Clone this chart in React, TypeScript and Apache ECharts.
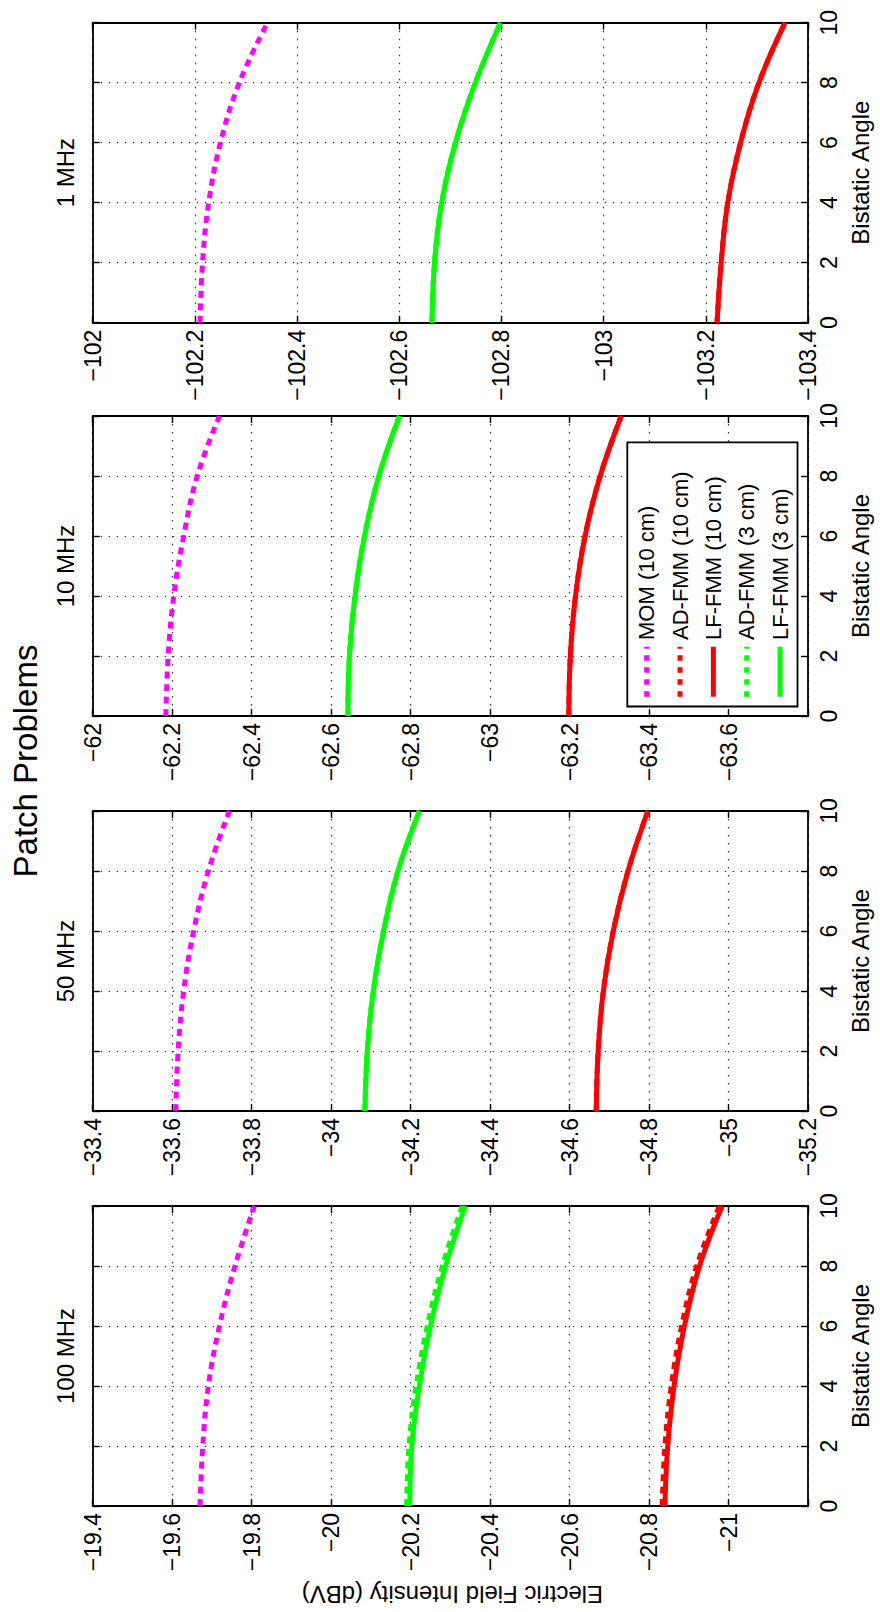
import React, { useEffect, useRef } from "react";
import * as echarts from "echarts";

// Bistatic angles at which the field was sampled
const angles = [0, 2, 4, 6, 8, 10];

// 1 MHz (dBV)
const mom1 = [-102.21, -102.215, -102.227, -102.25, -102.287, -102.342];
const adfmm10cm1 = [-103.222, -103.23, -103.243, -103.268, -103.304, -103.355];
const lffmm10cm1 = [-103.222, -103.23, -103.243, -103.268, -103.304, -103.355];
const adfmm3cm1 = [-102.664, -102.669, -102.683, -102.71, -102.749, -102.798];
const lffmm3cm1 = [-102.664, -102.669, -102.683, -102.71, -102.749, -102.798];

// 10 MHz (dBV)
const mom10 = [-62.184, -62.19, -62.204, -62.229, -62.263, -62.319];
const adfmm10cm10 = [-63.198, -63.202, -63.215, -63.239, -63.277, -63.33];
const lffmm10cm10 = [-63.198, -63.202, -63.215, -63.239, -63.277, -63.33];
const adfmm3cm10 = [-62.642, -62.646, -62.66, -62.684, -62.72, -62.772];
const lffmm3cm10 = [-62.642, -62.646, -62.66, -62.684, -62.72, -62.772];

// 50 MHz (dBV)
const mom50 = [-33.609, -33.615, -33.629, -33.654, -33.691, -33.744];
const adfmm10cm50 = [-34.667, -34.672, -34.685, -34.71, -34.747, -34.797];
const lffmm10cm50 = [-34.667, -34.672, -34.685, -34.71, -34.747, -34.797];
const adfmm3cm50 = [-34.085, -34.091, -34.106, -34.132, -34.168, -34.222];
const lffmm3cm50 = [-34.085, -34.091, -34.106, -34.132, -34.168, -34.222];

// 100 MHz (dBV)
const mom100 = [-19.67, -19.677, -19.691, -19.719, -19.758, -19.807];
const adfmm10cm100 = [-20.833, -20.84, -20.856, -20.882, -20.92, -20.977];
const lffmm10cm100 = [-20.84, -20.847, -20.863, -20.889, -20.927, -20.984];
const adfmm3cm100 = [-20.19, -20.196, -20.214, -20.242, -20.28, -20.33];
const lffmm3cm100 = [-20.198, -20.203, -20.222, -20.25, -20.288, -20.338];

// Axis ranges (dBV) per panel, top to bottom
const panelTitles = ["1 MHz", "10 MHz", "50 MHz", "100 MHz"];
const axisMax = [-102, -62, -33.4, -19.4];
const axisMin = [-103.4, -63.8, -35.2, -21.2];
const showMinLabel = [true, false, true, false];

const legendNames = ["MOM (10 cm)", "AD-FMM (10 cm)", "LF-FMM (10 cm)", "AD-FMM (3 cm)", "LF-FMM (3 cm)"];

const FONT = "'Liberation Sans', Helvetica, Arial, sans-serif";
const MAGENTA = "#ff00ff";
const RED = "#ff0000";
const GREEN = "#00ff00";
const DOT = [7, 5.5];

const panelSeries = [
  [mom1, adfmm10cm1, lffmm10cm1, adfmm3cm1, lffmm3cm1],
  [mom10, adfmm10cm10, lffmm10cm10, adfmm3cm10, lffmm3cm10],
  [mom50, adfmm10cm50, lffmm10cm50, adfmm3cm50, lffmm3cm50],
  [mom100, adfmm10cm100, lffmm10cm100, adfmm3cm100, lffmm3cm100],
];

const seriesLook = [
  { color: MAGENTA, dash: DOT },
  { color: RED, dash: DOT },
  { color: RED, dash: "solid" },
  { color: GREEN, dash: DOT },
  { color: GREEN, dash: "solid" },
];

const GRID_LEFT = 92.7;
const GRID_WIDTH = 719.3;
const GRID_HEIGHT = 300;
const gridTops = [22.7, 416, 811, 1206];

function fmt(v: number): string {
  const r = Math.round(v * 10) / 10;
  const s = String(Math.abs(r));
  return r < 0 ? "\u2212" + s : s;
}

function buildOption() {
  const grid: any[] = [];
  const xAxis: any[] = [];
  const yAxis: any[] = [];
  const series: any[] = [];
  const graphic: any[] = [];

  const tickStyle = { color: "#000", width: 1.4 };
  const lineStyleAxis = { color: "#000", width: 1.8 };
  const gridDots = { type: [1.5, 6.5], color: "#333", width: 1.2 };

  panelTitles.forEach((title, i) => {
    grid.push({
      left: GRID_LEFT,
      top: gridTops[i],
      width: GRID_WIDTH,
      height: GRID_HEIGHT,
      containLabel: false,
    });
    const mn = axisMin[i];
    const mx = axisMax[i];
    const hideMin = !showMinLabel[i];
    // dBV axis, drawn horizontally, decreasing to the right
    xAxis.push({
      type: "value",
      gridIndex: i,
      min: mn,
      max: mx,
      interval: 0.2,
      inverse: true,
      position: "bottom",
      axisLine: { show: true, onZero: false, lineStyle: lineStyleAxis },
      axisTick: { show: true, inside: true, length: 7, lineStyle: tickStyle },
      axisLabel: {
        show: true,
        rotate: 90,
        margin: 7,
        fontSize: 23,
        fontFamily: FONT,
        color: "#000",
        showMinLabel: true,
        showMaxLabel: true,
        formatter: (v: number) => (hideMin && Math.abs(v - mn) < 1e-6 ? "" : fmt(v)),
      },
      splitLine: { show: true, lineStyle: gridDots },
    });
    xAxis.push({
      type: "value",
      gridIndex: i,
      min: mn,
      max: mx,
      interval: 0.2,
      inverse: true,
      position: "top",
      axisLine: { show: true, onZero: false, lineStyle: lineStyleAxis },
      axisTick: { show: true, inside: true, length: 7, lineStyle: tickStyle },
      axisLabel: { show: false },
      splitLine: { show: false },
    });
    // Bistatic angle axis, drawn vertically on the right
    yAxis.push({
      type: "value",
      gridIndex: i,
      min: 0,
      max: 10,
      interval: 2,
      position: "right",
      name: "Bistatic Angle",
      nameLocation: "middle",
      nameRotate: 90,
      nameGap: 40,
      nameTextStyle: { fontSize: 24, fontFamily: FONT, color: "#000" },
      axisLine: { show: true, onZero: false, lineStyle: lineStyleAxis },
      axisTick: { show: true, inside: true, length: 7, lineStyle: tickStyle },
      axisLabel: {
        show: true,
        rotate: 90,
        margin: 9,
        fontSize: 23,
        fontFamily: FONT,
        color: "#000",
      },
      splitLine: { show: true, lineStyle: gridDots },
    });
    yAxis.push({
      type: "value",
      gridIndex: i,
      min: 0,
      max: 10,
      interval: 2,
      position: "left",
      axisLine: { show: true, onZero: false, lineStyle: lineStyleAxis },
      axisTick: { show: true, inside: true, length: 7, lineStyle: tickStyle },
      axisLabel: { show: false },
      splitLine: { show: false },
    });

    panelSeries[i].forEach((vals, k) => {
      const look = seriesLook[k];
      series.push({
        type: "line",
        name: legendNames[k],
        xAxisIndex: 2 * i,
        yAxisIndex: 2 * i,
        data: angles.map((a, j) => [vals[j], a]),
        showSymbol: false,
        symbol: "none",
        smooth: 0.4,
        lineStyle: { color: look.color, width: 5, type: look.dash, cap: "butt" },
        z: 3 + k,
        silent: true,
      });
    });

    graphic.push({
      type: "text",
      x: 65,
      y: gridTops[i] + GRID_HEIGHT / 2,
      rotation: Math.PI / 2,
      style: {
        text: title,
        fontSize: 24,
        fontFamily: FONT,
        fill: "#000",
        align: "center",
        verticalAlign: "middle",
        textAlign: "center",
        textVerticalAlign: "middle",
      },
    });
  });

  // Figure title
  graphic.push({
    type: "text",
    x: 25,
    y: 761,
    rotation: Math.PI / 2,
    style: {
      text: "Patch Problems",
      fontSize: 33,
      fontFamily: FONT,
      fill: "#000",
      align: "center",
      verticalAlign: "middle",
      textAlign: "center",
      textVerticalAlign: "middle",
    },
  });

  // Shared field intensity label
  graphic.push({
    type: "text",
    x: GRID_LEFT + GRID_WIDTH / 2,
    y: 1594,
    rotation: Math.PI,
    style: {
      text: "Electric Field Intensity (dBV)",
      fontSize: 24,
      fontFamily: FONT,
      fill: "#000",
      align: "center",
      verticalAlign: "middle",
      textAlign: "center",
      textVerticalAlign: "middle",
    },
  });

  // Legend box inside the 10 MHz panel
  const legendChildren: any[] = [
    {
      type: "rect",
      shape: { x: 627.3, y: 442.3, width: 170.2, height: 264.2 },
      style: { fill: "#fff", stroke: "#000", lineWidth: 1.8 },
      z: 100,
    },
  ];
  legendNames.forEach((name, k) => {
    const cx = 646.7 + k * 33.33;
    const look = seriesLook[k];
    legendChildren.push({
      type: "line",
      shape: { x1: cx, y1: 696.7, x2: cx, y2: 646.7 },
      style: {
        stroke: look.color,
        lineWidth: 5,
        lineDash: look.dash === "solid" ? null : [5.5, 6.5],
        lineCap: "butt",
      },
      z: 101,
    });
    legendChildren.push({
      type: "text",
      x: cx,
      y: 640,
      rotation: Math.PI / 2,
      style: {
        text: name,
        fontSize: 22,
        fontFamily: FONT,
        fill: "#000",
        align: "left",
        verticalAlign: "middle",
        textAlign: "left",
        textVerticalAlign: "middle",
      },
      z: 101,
    });
  });
  graphic.push({ type: "group", children: legendChildren, z: 100 });

  return {
    animation: false,
    backgroundColor: "#ffffff",
    grid,
    xAxis,
    yAxis,
    series,
    graphic,
  };
}

export default function App() {
  const ref = useRef<HTMLDivElement>(null);
  useEffect(() => {
    document.body.style.margin = "0";
    if (!ref.current) return;
    const chart = echarts.init(ref.current, undefined, { renderer: "svg" });
    chart.setOption(buildOption() as any);
    return () => chart.dispose();
  }, []);
  return <div ref={ref} style={{ width: 880, height: 1612, position: "absolute", left: 0, top: 0 }} />;
}
